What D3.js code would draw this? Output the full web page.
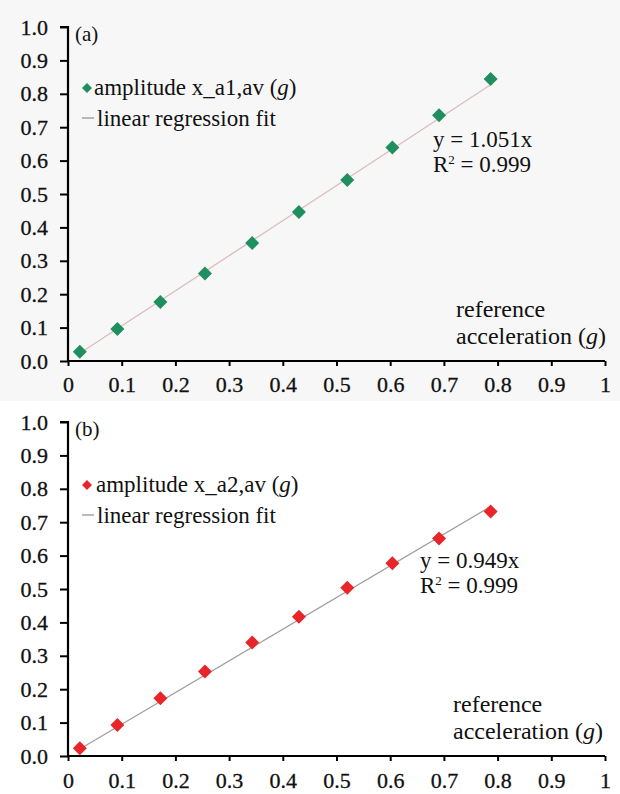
<!DOCTYPE html>
<html>
<head>
<meta charset="utf-8">
<script src="https://cdn.jsdelivr.net/npm/d3@7"></script>
<style>
  body { margin: 0; background: #fff; }
</style>
</head>
<body>
<svg id="chart"></svg>
<script>
// reference acceleration (g), same for both panels
let refAcc = [0.022, 0.092, 0.172, 0.255, 0.343, 0.430, 0.520, 0.604, 0.691, 0.787];
// measured amplitudes
let ampA1 = [0.028, 0.096, 0.177, 0.262, 0.353, 0.446, 0.542, 0.639, 0.736, 0.844];
let ampA2 = [0.023, 0.093, 0.173, 0.253, 0.340, 0.417, 0.504, 0.577, 0.651, 0.732];
// regression slopes
let slopeA1 = 1.051;
let slopeA2 = 0.949;
let xTicks = [0, 0.1, 0.2, 0.3, 0.4, 0.5, 0.6, 0.7, 0.8, 0.9, 1];
let yTicks = [0, 0.1, 0.2, 0.3, 0.4, 0.5, 0.6, 0.7, 0.8, 0.9, 1.0];

let FONT = "'Liberation Serif', serif";
let widthSVG = 620, heightSVG = 794;
let SVG = d3.select('svg#chart').attr('width', widthSVG).attr('height', heightSVG)
  .attr('font-family', FONT);

// scanned panel has a slightly grey tone
SVG.append('rect').attr('x', 0).attr('y', 0).attr('width', widthSVG).attr('height', 401)
   .style('fill', '#f7f7f7');

let x = d3.scaleLinear().domain([0, 1]).range([68, 605]);

// diamond path (rotated square)
function diamond(r) {
  return `M0,${-r}L${r},0L0,${r}L${-r},0Z`;
}

function txt(sel, size) {
  return sel.attr('font-family', FONT).attr('font-size', size).attr('fill', '#111');
}

function drawPanel(cfg) {
  let y = d3.scaleLinear().domain([0, 1]).range([cfg.bottom, cfg.bottom - 334]);
  let g = SVG.append('g').attr('class', 'panel');

  // y axis
  let yAxis = d3.axisLeft(y).tickValues(yTicks).tickSize(8).tickPadding(12)
    .tickFormat(d3.format('.1f'));
  let gy = g.append('g').attr('transform', `translate(${x(0)},0)`).call(yAxis)
    .attr('font-family', FONT).attr('font-size', 22);
  gy.select('.domain').attr('d', `M-8,${y(1)}H0V${y(0)}`).style('stroke', '#000').style('stroke-width', 2.2);
  gy.selectAll('.tick line').style('stroke', '#000').style('stroke-width', 2);
  txt(gy.selectAll('.tick text'), 22).style('stroke', '#111').style('stroke-width', 0.3);

  // x axis
  let xAxis = d3.axisBottom(x).tickValues(xTicks).tickSize(5).tickPadding(cfg.xPad)
    .tickFormat(d => d === 0 || d === 1 ? d : d3.format('.1f')(d));
  let gx = g.append('g').attr('transform', `translate(0,${y(0)})`).call(xAxis)
    .attr('font-family', FONT).attr('font-size', 22);
  gx.select('.domain').attr('d', `M${x(0)},0H${x(1)}`).style('stroke', '#000').style('stroke-width', 2.2);
  gx.selectAll('.tick line').style('stroke', '#000').style('stroke-width', 2);
  txt(gx.selectAll('.tick text'), 22).style('stroke', '#111').style('stroke-width', 0.3);

  // regression line
  let x0 = d3.min(refAcc), x1 = d3.max(refAcc);
  g.append('line')
    .attr('x1', x(x0)).attr('y1', y(cfg.slope * x0))
    .attr('x2', x(x1)).attr('y2', y(cfg.slope * x1))
    .style('stroke', cfg.lineColor).style('stroke-width', 1.3);

  // points
  g.selectAll('path.pt')
    .data(refAcc.map((d, i) => [d, cfg.values[i]]))
    .enter()
    .append('path')
    .attr('class', 'pt')
    .attr('d', diamond(7))
    .attr('transform', d => `translate(${x(d[0])},${y(d[1])})`)
    .style('fill', cfg.color);

  // panel label
  txt(g.append('text').text(cfg.label).attr('x', 75).attr('y', cfg.bottom - 320), 21);

  // legend
  let ly = cfg.bottom - cfg.legendOff;
  g.append('path').attr('d', diamond(5)).attr('transform', `translate(87,${ly - 7})`)
    .style('fill', cfg.color);
  let t1 = txt(g.append('text').attr('x', cfg.legX).attr('y', ly), 23);
  t1.append('tspan').text(cfg.legendName + ' ');
  t1.append('tspan').text('(');
  t1.append('tspan').text('g').attr('font-style', 'italic');
  t1.append('tspan').text(')');
  g.append('line').attr('x1', 82).attr('x2', 94).attr('y1', ly + 23).attr('y2', ly + 23)
    .style('stroke', '#777').style('stroke-width', 1);
  txt(g.append('text').text('linear regression fit').attr('x', 97).attr('y', ly + 31), 23);

  // equation
  txt(g.append('text').text(`y = ${cfg.slope.toFixed(3)}x`).attr('x', cfg.eqX)
    .attr('y', cfg.bottom - cfg.eqOff), 23);
  let r2 = txt(g.append('text').attr('x', cfg.eqX).attr('y', cfg.bottom - cfg.eqOff + 25), 23);
  r2.append('tspan').text('R');
  r2.append('tspan').text('2').attr('dy', -8).attr('font-size', 13);
  r2.append('tspan').text(' = 0.999').attr('dy', 8);

  // axis title
  txt(g.append('text').text('reference').attr('x', cfg.titleX).attr('y', cfg.bottom - 44), 24);
  let at = txt(g.append('text').attr('x', cfg.titleX).attr('y', cfg.bottom - 17), 24);
  at.append('tspan').text('acceleration (');
  at.append('tspan').text('g').attr('font-style', 'italic');
  at.append('tspan').text(')');
}

drawPanel({ bottom: 361, values: ampA1, slope: slopeA1, color: '#1f8f5f', lineColor: '#dcbcbc',
  label: '(a)', legendName: 'amplitude x_a1,av', legendOff: 266, legX: 94, eqX: 433, eqOff: 214,
  titleX: 456, xPad: 10 });
drawPanel({ bottom: 756, values: ampA2, slope: slopeA2, color: '#e8262a', lineColor: '#a0a0a0',
  label: '(b)', legendName: 'amplitude x_a2,av', legendOff: 264, legX: 96, eqX: 420, eqOff: 188,
  titleX: 453, xPad: 11 });
</script>
</body>
</html>
